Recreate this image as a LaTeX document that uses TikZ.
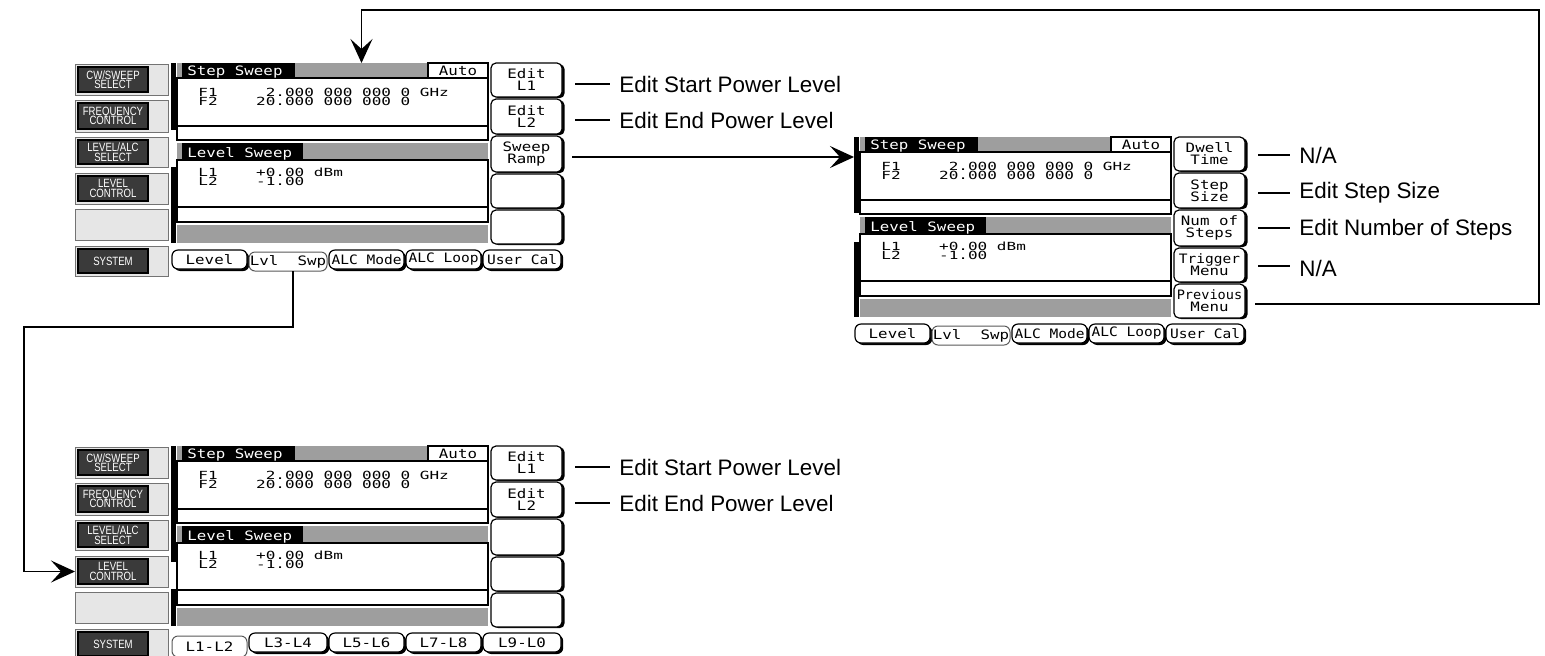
\documentclass[tikz,border=0pt]{standalone}
\usepackage{fontspec}
\setmainfont{Liberation Sans}
\newfontfamily\lcdfam{DejaVu Sans Mono}
\usetikzlibrary{shadows,arrows.meta}
\definecolor{dith}{gray}{0.62}
\definecolor{btndark}{HTML}{3A3A3A}
\definecolor{btnlight}{HTML}{E6E6E6}
\newcommand{\lcdA}[1]{{\fontsize{7.9}{8}\selectfont\lcdfam\scalebox{1}[0.82]{#1}}}
\newcommand{\lcdB}[1]{{\fontsize{8}{8}\selectfont\lcdfam\scalebox{1}[0.7]{#1}}}
\newcommand{\lcdsk}{\fontsize{7.8}{6}\selectfont\lineskiplimit=-20pt}
\newcommand{\btnfont}{\fontsize{6}{4.7}\selectfont\lineskiplimit=-20pt}
\newcommand{\bl}[1]{\scalebox{0.8}[1]{#1}}
\newcommand{\pbox}[7]{\node[#6, minimum width={((#4)-(#2))*0.5pt}, minimum height={((#5)-(#3))*0.5pt}, inner sep=0pt, outer sep=0pt] (#1) at ({((#2)+(#4))/2},{((#3)+(#5))/2}) {#7};}
\newcommand{\sidebtn}[4]{%
  \pbox{#1}{75}{#2}{168}{#3}{fill=btnlight, draw=black!55, line width=0.5pt}{}
  \pbox{#1-in}{78}{(#2)+3}{148}{(#3)-3}{fill=btndark, draw=black, line width=0.6pt, text=white, align=center, font=\btnfont}{#4}}
\newcommand{\emptybtn}[3]{\pbox{#1}{75}{#2}{168}{#3}{fill=btnlight, draw=black!55, line width=0.5pt}{}}
\newcommand{\skey}[4]{\pbox{#1}{491}{#2}{562}{#3}{skeystyle}{#4}}
\newcommand{\lcdscreen}[3]{%
  \pbox{#1-bar}{171}{63}{176}{#2}{fill=black}{}
  \pbox{#1-barb}{171}{#3}{176}{243}{fill=black}{}
  \pbox{#1-h1s}{177}{63}{182}{78}{fill=dith}{}
  \pbox{#1-h1}{182}{63}{295}{78}{fill=black}{}
  \pbox{#1-dith1}{295}{63}{428}{78}{fill=dith}{}
  \pbox{#1-auto}{428}{63}{488}{78}{fill=white, draw=black, line width=0.8pt}{\lcdA{Auto}}
  \pbox{#1-c1}{177}{78}{488}{126}{fill=white, draw=black, line width=0.8pt}{}
  \pbox{#1-r1}{177}{126}{488}{140}{fill=white, draw=black, line width=0.8pt}{}
  \pbox{#1-h2s}{177}{143}{182}{160}{fill=dith}{}
  \pbox{#1-h2}{182}{143}{303}{160}{fill=black}{}
  \pbox{#1-dith2}{303}{143}{488}{160}{fill=dith}{}
  \pbox{#1-c2}{177}{160}{488}{207}{fill=white, draw=black, line width=0.8pt}{}
  \pbox{#1-r2}{177}{207}{488}{222}{fill=white, draw=black, line width=0.8pt}{}
  \pbox{#1-dith3}{177}{225}{488}{243}{fill=dith}{}
  \node[anchor=base west, text=white, inner sep=0pt] (#1-t1) at (187,75.5) {\lcdA{Step~Sweep}};
  \node[anchor=base west, inner sep=0pt] (#1-f1) at (198,96) {\lcdB{F1~~~~~2.000~000~000~0~GHz}};
  \node[anchor=base west, inner sep=0pt] (#1-f2) at (198,105.5) {\lcdB{F2~~~~20.000~000~000~0}};
  \node[anchor=base west, text=white, inner sep=0pt] (#1-t2) at (187,157) {\lcdA{Level~Sweep}};
  \node[anchor=base west, inner sep=0pt] (#1-l1) at (198,176) {\lcdB{L1~~~~+0.00~dBm}};
  \node[anchor=base west, inner sep=0pt] (#1-l2) at (198,185.5) {\lcdB{L2~~~~-1.00}};
}
\begin{document}
\begin{tikzpicture}[x=0.5pt,y=-0.5pt,
  skeystyle/.style={draw=black, line width=0.6pt, fill=white, rounded corners=2.5pt, align=center, font=\lcdsk,
    drop shadow={shadow xshift=1.3pt, shadow yshift=-0.6pt, opacity=1, fill=black}},
  tabn/.style={draw=black, line width=0.6pt, fill=white, rounded corners=3pt, font=\lcdsk,
    drop shadow={shadow xshift=1.1pt, shadow yshift=-1pt, opacity=1, fill=black}},
  tabsel/.style={draw=black!65, line width=0.5pt, fill=white, rounded corners=3pt, font=\lcdsk},
  conn/.style={line width=0.7pt, draw=black},
  arr/.style={conn, -{Stealth[length=12pt, width=11pt, inset=5pt]}},
  lbl/.style={font=\fontsize{11.2}{13}\selectfont, inner sep=3pt, anchor=west}]
\useasboundingbox (0,0) rectangle (1545,655);
\fill[white] (0,0) rectangle (1545,655);

% ---------------- top-left panel ----------------
\sidebtn{tl-b1}{64}{95}{\bl{CW/SWEEP}\\\bl{SELECT}}
\sidebtn{tl-b2}{100}{132}{\bl{FREQUENCY}\\\bl{CONTROL}}
\sidebtn{tl-b3}{137}{167}{\bl{LEVEL/ALC}\\\bl{SELECT}}
\sidebtn{tl-b4}{173}{204}{\bl{LEVEL}\\\bl{CONTROL}}
\emptybtn{tl-b5}{209}{240}
\sidebtn{tl-b6}{246}{276}{\bl{SYSTEM}}
\lcdscreen{tl}{130}{167}
\skey{tl-sk1}{63}{97}{\lcdA{Edit}\\\lcdA{L1}}
\skey{tl-sk2}{99}{134}{\lcdA{Edit}\\\lcdA{L2}}
\skey{tl-sk3}{136}{172}{\lcdA{Sweep}\\\lcdA{Ramp}}
\skey{tl-sk4}{174}{208}{}
\skey{tl-sk5}{210}{244}{}
\pbox{tl-tab1}{172}{250}{247}{269}{tabn}{\lcdA{Level}}
\pbox{tl-tab2}{249}{252}{327}{271}{tabsel}{\lcdA{Lvl~~Swp}}
\pbox{tl-tab3}{329}{250}{404}{269}{tabn}{\lcdA{\scalebox{0.92}[1]{ALC~Mode}}}
\pbox{tl-tab4}{406}{250}{481}{269}{tabn}{\lcdA{\scalebox{0.92}[1]{ALC~Loop}}}
\pbox{tl-tab5}{483}{250}{561}{269}{tabn}{\lcdA{\scalebox{0.92}[1]{User~Cal}}}

% ---------------- right panel ----------------
\begin{scope}[shift={(683,74)}]
\lcdscreen{rp}{139}{168}
\skey{rp-sk1}{63}{97}{\lcdA{Dwell}\\\lcdA{Time}}
\skey{rp-sk2}{99}{134}{\lcdA{Step}\\\lcdA{Size}}
\skey{rp-sk3}{136}{172}{\lcdA{Num~of}\\\lcdA{Steps}}
\skey{rp-sk4}{174}{208}{\lcdA{\scalebox{0.92}[1]{Trigger}}\\\lcdA{Menu}}
\skey{rp-sk5}{210}{244}{\lcdA{\scalebox{0.86}[1]{Previous}}\\\lcdA{Menu}}
\pbox{rp-tab1}{172}{250}{247}{269}{tabn}{\lcdA{Level}}
\pbox{rp-tab2}{249}{252}{327}{271}{tabsel}{\lcdA{Lvl~~Swp}}
\pbox{rp-tab3}{329}{250}{404}{269}{tabn}{\lcdA{\scalebox{0.92}[1]{ALC~Mode}}}
\pbox{rp-tab4}{406}{250}{481}{269}{tabn}{\lcdA{\scalebox{0.92}[1]{ALC~Loop}}}
\pbox{rp-tab5}{483}{250}{561}{269}{tabn}{\lcdA{\scalebox{0.92}[1]{User~Cal}}}
\end{scope}

% ---------------- bottom panel ----------------
\begin{scope}[shift={(0,383)}]
\sidebtn{bp-b1}{64}{95}{\bl{CW/SWEEP}\\\bl{SELECT}}
\sidebtn{bp-b2}{100}{132}{\bl{FREQUENCY}\\\bl{CONTROL}}
\sidebtn{bp-b3}{137}{167}{\bl{LEVEL/ALC}\\\bl{SELECT}}
\sidebtn{bp-b4}{173}{204}{\bl{LEVEL}\\\bl{CONTROL}}
\emptybtn{bp-b5}{209}{240}
\sidebtn{bp-b6}{246}{276}{\bl{SYSTEM}}
\lcdscreen{bp}{179}{206}
\skey{bp-sk1}{63}{97}{\lcdA{Edit}\\\lcdA{L1}}
\skey{bp-sk2}{99}{134}{\lcdA{Edit}\\\lcdA{L2}}
\skey{bp-sk3}{136}{172}{}
\skey{bp-sk4}{174}{208}{}
\skey{bp-sk5}{210}{244}{}
\pbox{bp-tab1}{172}{253}{247}{274}{tabsel}{\lcdA{L1-L2}}
\pbox{bp-tab2}{249}{250}{327}{269}{tabn}{\lcdA{L3-L4}}
\pbox{bp-tab3}{329}{250}{404}{269}{tabn}{\lcdA{L5-L6}}
\pbox{bp-tab4}{406}{250}{481}{269}{tabn}{\lcdA{L7-L8}}
\pbox{bp-tab5}{483}{250}{561}{269}{tabn}{\lcdA{L9-L0}}
\end{scope}

% ---------------- labels ----------------
\node[lbl] (lab-tl1) at (613,84) {Edit Start Power Level};
\node[lbl] (lab-tl2) at (613,120) {Edit End Power Level};
\node[lbl] (lab-rp1) at (1293,155) {N/A};
\node[lbl] (lab-rp2) at (1293,193) {Edit Step Size};
\node[lbl] (lab-rp3) at (1293,230) {Edit Number of Steps};
\node[lbl] (lab-rp4) at (1293,268) {N/A};
\node[lbl] (lab-bp1) at (613,467) {Edit Start Power Level};
\node[lbl] (lab-bp2) at (613,503) {Edit End Power Level};

\draw[conn] ([xshift=6.5pt]tl-sk1.east |- lab-tl1.west) -- ([xshift=-1.5pt]lab-tl1.west);
\draw[conn] ([xshift=6.5pt]tl-sk2.east |- lab-tl2.west) -- ([xshift=-1.5pt]lab-tl2.west);
\draw[conn] ([xshift=6.5pt]rp-sk1.east |- lab-rp1.west) -- ([xshift=-1.5pt]lab-rp1.west);
\draw[conn] ([xshift=6.5pt]rp-sk2.east |- lab-rp2.west) -- ([xshift=-1.5pt]lab-rp2.west);
\draw[conn] ([xshift=6.5pt,yshift=1pt]rp-sk3.east |- lab-rp3.west) -- ([xshift=-1.5pt,yshift=1pt]lab-rp3.west);
\draw[conn] ([xshift=6.5pt,yshift=1pt]rp-sk4.east |- lab-rp4.west) -- ([xshift=-1.5pt,yshift=1pt]lab-rp4.west);
\draw[conn] ([xshift=6.5pt]bp-sk1.east |- lab-bp1.west) -- ([xshift=-1.5pt]lab-bp1.west);
\draw[conn] ([xshift=6.5pt]bp-sk2.east |- lab-bp2.west) -- ([xshift=-1.5pt]lab-bp2.west);

% ---------------- connectors ----------------
\coordinate (loopTR) at (1539,10);
\coordinate (loopBL) at (24,327);
\draw[arr] ([xshift=5pt,yshift=-1.5pt]tl-sk3.east) -- ([yshift=-1.5pt]tl-sk3.east -| rp-bar.west);
\draw[arr] ([xshift=5pt,yshift=-1.5pt]rp-sk5.east) -| (loopTR) -| (tl-dith1.north);
\draw[arr] ([xshift=2.5pt]tl-tab2.south) |- (loopBL) |- (bp-b4.west);
\end{tikzpicture}
\end{document}
